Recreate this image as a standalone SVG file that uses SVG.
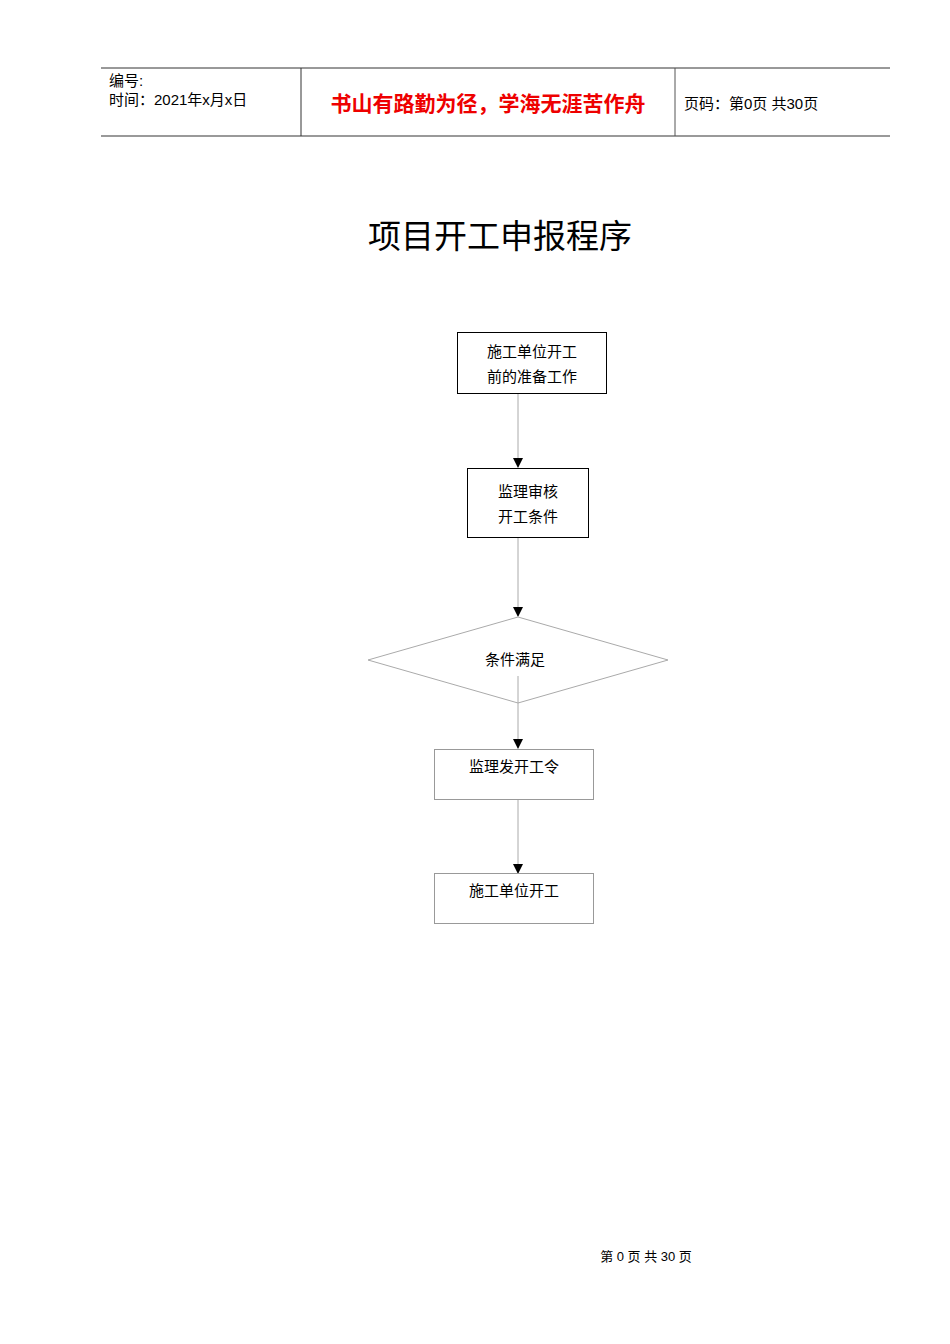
<svg xmlns="http://www.w3.org/2000/svg" width="950" height="1344" viewBox="0 0 950 1344">
<style>
text{font-family:"Liberation Sans","Noto Sans CJK SC",sans-serif;fill:#000}
.n{font-size:15px;text-anchor:middle}
.h{font-size:15px}
.box{fill:#fff;stroke:#000;stroke-width:1}
.lbox{fill:#fff;stroke:#999;stroke-width:1}
.c{stroke:#aaa;stroke-width:1;fill:none}
</style>
<defs><marker id="a" markerWidth="10" markerHeight="10" refX="9" refY="5" orient="auto" markerUnits="userSpaceOnUse"><path d="M0,0L10,5L0,10z" fill="#000"/></marker></defs>
<rect width="950" height="1344" fill="#fff"/>
<g id="header">
<line x1="101" y1="68" x2="890" y2="68" stroke="#333"/>
<line x1="101" y1="136" x2="890" y2="136" stroke="#777" stroke-width="1.5"/>
<line x1="301" y1="68" x2="301" y2="136" stroke="#333"/>
<line x1="675" y1="68" x2="675" y2="136" stroke="#555"/>
<text class="h" x="109" y="86">编号:</text>
<text class="h" x="109" y="105">时间：2021年x月x日</text>
<text x="488" y="111" font-size="21" font-weight="bold" text-anchor="middle" style="fill:#e00">书山有路勤为径，学海无涯苦作舟</text>
<text class="h" x="684" y="109">页码：第0页 共30页</text>
</g>
<text x="500" y="248" font-size="33" text-anchor="middle">项目开工申报程序</text>
<g id="connectors">
<line class="c" x1="518" y1="394" x2="518" y2="467" marker-end="url(#a)"/>
<line class="c" x1="518" y1="538" x2="518" y2="616" marker-end="url(#a)"/>
<line class="c" x1="518" y1="676" x2="518" y2="748" marker-end="url(#a)"/>
<line class="c" x1="518" y1="800" x2="518" y2="873" marker-end="url(#a)"/>
</g>
<g id="n1"><rect class="box" x="457.5" y="332.5" width="149" height="61"/><text class="n" x="532" y="357">施工单位开工</text><text class="n" x="532" y="382">前的准备工作</text></g>
<g id="n2"><rect class="box" x="467.5" y="468.5" width="121" height="69"/><text class="n" x="528" y="497">监理审核</text><text class="n" x="528" y="522">开工条件</text></g>
<g id="n3"><polygon points="518,617 668,660 518,703 368,660" fill="none" stroke="#aaa"/><text class="n" x="515" y="665">条件满足</text></g>
<g id="n4"><rect class="lbox" x="434.5" y="749.5" width="159" height="50"/><text class="n" x="514" y="772">监理发开工令</text></g>
<g id="n5"><rect class="lbox" x="434.5" y="873.5" width="159" height="50"/><text class="n" x="514" y="896">施工单位开工</text></g>
<text x="646" y="1261" font-size="13" text-anchor="middle">第 0 页 共 30 页</text>
</svg>
